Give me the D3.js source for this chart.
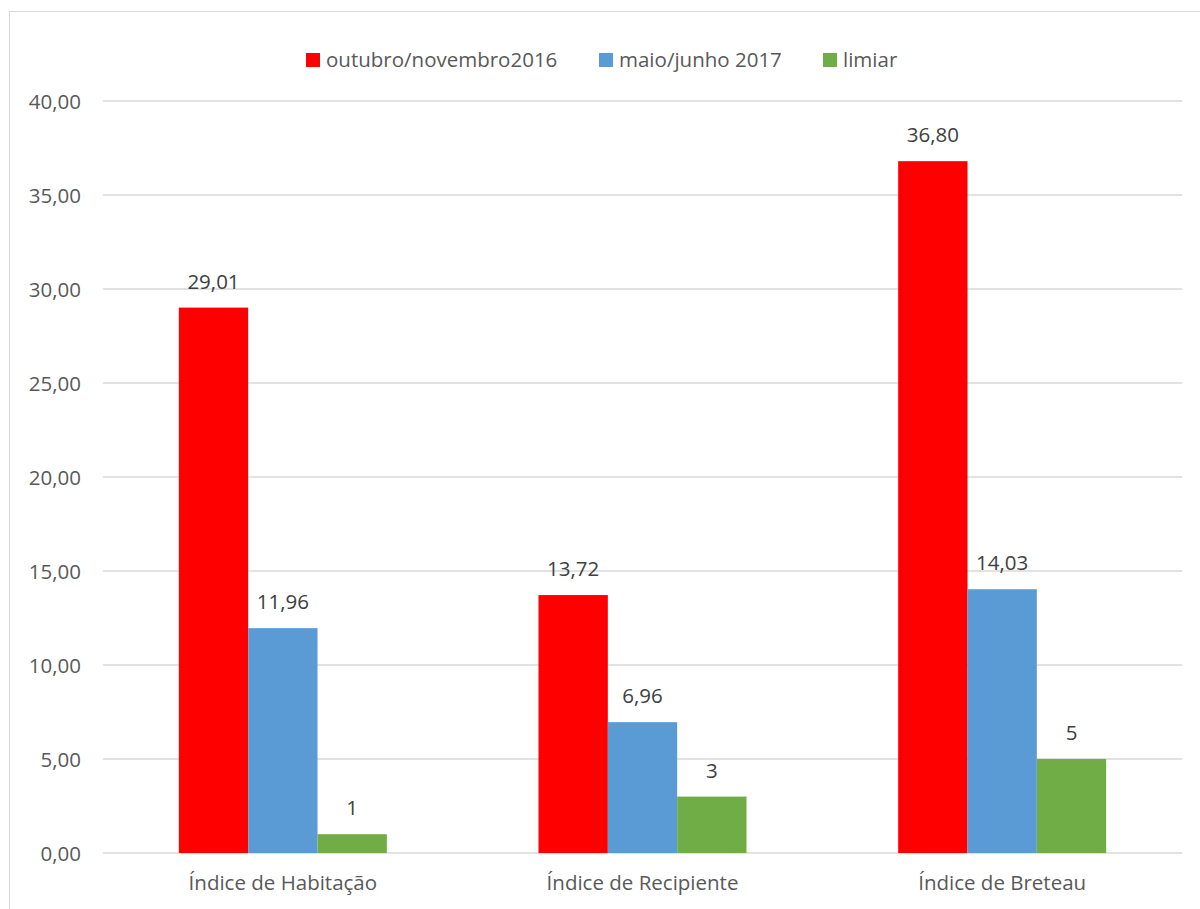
<!DOCTYPE html>
<html><head><meta charset="utf-8">
<script src="https://cdn.jsdelivr.net/npm/d3@7"></script>
<style>body{margin:0;background:#fff}</style>
</head><body>
<svg id="c" width="1200" height="909"></svg>
<script>
const categories = ["Índice de Habitação", "Índice de Recipiente", "Índice de Breteau"];
const seriesNames = ["outubro/novembro2016", "maio/junho 2017", "limiar"];
const seriesColors = ["#FF0000", "#5B9BD5", "#70AD47"];
const valuesOutNov = [29.01, 13.72, 36.80];
const valuesMaiJun = [11.96, 6.96, 14.03];
const valuesLimiar = [1, 3, 5];
const labelsOutNov = ["29,01", "13,72", "36,80"];
const labelsMaiJun = ["11,96", "6,96", "14,03"];
const labelsLimiar = ["1", "3", "5"];
const yTicks = [0, 5, 10, 15, 20, 25, 30, 35, 40];

const series = [valuesOutNov, valuesMaiJun, valuesLimiar];
const labels = [labelsOutNov, labelsMaiJun, labelsLimiar];

const svg = d3.select("#c");
const font = "'Open Sans', Calibri, sans-serif";
const fs = 20.5;
const L = 103, R = 1182, T = 101, B = 853;

// frame
svg.append("rect").attr("x", 9.5).attr("y", 11.5).attr("width", 1200).attr("height", 920)
  .attr("fill", "none").attr("stroke", "#D9D9D9").attr("stroke-width", 1);

const x0 = d3.scaleBand().domain(categories).range([L, R]).paddingInner(0).paddingOuter(0);
const groupW = 208;
const x1 = d3.scaleBand().domain(d3.range(3)).range([0, groupW]);
const y = d3.scaleLinear().domain([0, 40]).range([B, T]);

// gridlines
svg.append("g").selectAll("line").data(yTicks).join("line")
  .attr("x1", L).attr("x2", R).attr("y1", d => y(d)).attr("y2", d => y(d))
  .attr("stroke", "#D9D9D9").attr("stroke-width", 1.3);

// y axis labels
const yAxis = d3.axisLeft(y).tickValues(yTicks).tickSize(0).tickPadding(0)
  .tickFormat(d => d3.format(".2f")(d).replace(".", ","));
const gy = svg.append("g").attr("transform", `translate(${L - 22},0)`).call(yAxis);
gy.select(".domain").remove();
gy.selectAll("text").attr("font-family", font).attr("font-size", fs).attr("fill", "#595959").attr("dy", "0.35em");

// x axis labels
const xAxis = d3.axisBottom(x0).tickSize(0).tickPadding(0);
const gx = svg.append("g").attr("transform", `translate(0,${B + 22})`).call(xAxis);
gx.select(".domain").remove();
gx.selectAll("text").attr("font-family", font).attr("font-size", fs).attr("fill", "#595959").attr("dy", "0.71em");

// bars
series.forEach((vals, si) => {
  const g = svg.append("g");
  g.selectAll("rect").data(vals).join("rect")
    .attr("x", (d, i) => x0(categories[i]) + (x0.bandwidth() - groupW) / 2 + x1(si))
    .attr("width", x1.bandwidth())
    .attr("y", d => y(d))
    .attr("height", d => B - y(d))
    .attr("fill", seriesColors[si]);
  g.selectAll("text").data(vals).join("text")
    .attr("x", (d, i) => x0(categories[i]) + (x0.bandwidth() - groupW) / 2 + x1(si) + x1.bandwidth() / 2)
    .attr("y", d => y(d) - 19)
    .attr("text-anchor", "middle")
    .attr("font-family", font).attr("font-size", fs).attr("fill", "#404040")
    .text((d, i) => labels[si][i]);
});

// legend
const legendX = [306, 599, 823];
const lg = svg.append("g");
seriesNames.forEach((n, i) => {
  lg.append("rect").attr("x", legendX[i]).attr("y", 53).attr("width", 14).attr("height", 14).attr("fill", seriesColors[i]);
  lg.append("text").attr("x", legendX[i] + 20).attr("y", 60).attr("dy", "0.35em")
    .attr("font-family", font).attr("font-size", fs).attr("fill", "#595959").text(n);
});
</script>
</body></html>
